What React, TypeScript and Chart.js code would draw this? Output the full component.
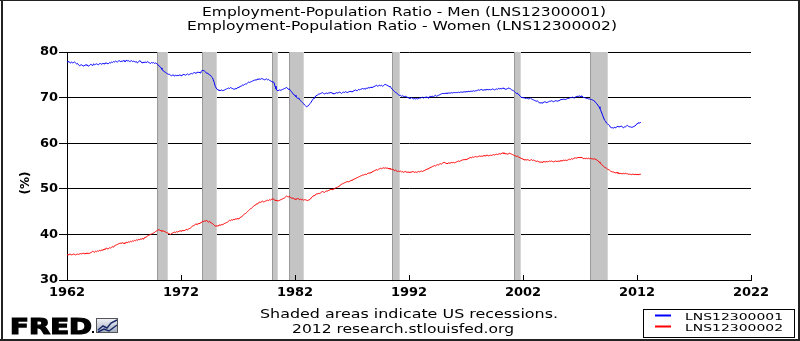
import React, { useEffect, useRef } from "react";
import { Chart, registerables } from "chart.js";

Chart.register(...registerables);

// ---------- DATA ----------
const START_YEAR = 1962; // first monthly observation: Jan 1962

// Employment-Population Ratio - Men (LNS12300001), monthly, %
const men1960s = [
  77.9, 77.8, 77.9, 77.7, 77.6, 77.8, 77.6, 77.7, 77.8, 77.6, 77.4, 77.5,
  77.2, 77.0, 77.1, 77.2, 77.1, 76.9, 77.0, 77.1, 77.2, 77.1, 77.0, 76.9,
  77.1, 77.3, 77.2, 77.0, 77.4, 77.2, 77.3, 77.4, 77.3, 77.2, 77.4, 77.5,
  77.3, 77.4, 77.5, 77.4, 77.6, 77.5, 77.6, 77.4, 77.5, 77.7, 77.6, 77.8,
  77.7, 77.9, 77.8, 78.0, 77.9, 77.8, 78.0, 78.1, 77.9, 78.0, 77.9, 78.1,
  78.1, 77.9, 78.0, 78.2, 78.0, 78.1, 77.9, 78.0, 78.1, 77.9, 78.0, 77.9,
  77.8, 77.9, 77.6, 77.8, 78.0, 78.1, 77.8, 77.6, 77.7, 77.8, 77.7, 77.8,
  77.7, 77.9, 77.7, 77.6, 77.5, 77.7, 77.6, 77.7, 77.5, 77.6, 77.5, 77.4,
];
const men1970s = [
  77.1, 76.9, 76.8, 76.5, 76.2, 75.9, 75.8, 75.6, 75.5, 75.3, 75.2, 75.1,
  75.1, 74.9, 74.8, 74.9, 75.0, 74.7, 74.9, 74.8, 74.9, 74.8, 74.9, 75.0,
  74.8, 74.9, 75.0, 75.1, 75.0, 74.9, 75.1, 75.2, 75.0, 75.1, 75.2, 75.3,
  75.2, 75.4, 75.5, 75.4, 75.3, 75.6, 75.5, 75.6, 75.4, 75.7, 75.9, 76.0,
  75.9, 75.8, 75.6, 75.3, 75.4, 75.1, 75.0, 74.9, 74.6, 74.4, 73.9, 73.3,
  72.5, 72.1, 71.8, 71.7, 71.6, 71.5, 71.6, 71.7, 71.5, 71.6, 71.7, 71.8,
  71.9, 72.0, 72.1, 72.0, 72.2, 72.1, 72.0, 71.9, 71.8, 72.0, 71.9, 72.1,
  72.2, 72.3, 72.4, 72.5, 72.6, 72.8, 72.7, 72.9, 73.0, 73.0, 73.2, 73.4,
  73.3, 73.4, 73.5, 73.6, 73.7, 73.8, 73.9, 73.8, 74.0, 74.1, 74.0, 74.1,
  74.0, 74.2, 74.1, 74.0, 73.9, 74.0, 74.1, 73.9, 74.0, 73.8, 73.7, 73.6,
];
const men1980s = [
  73.4, 73.5, 73.2, 72.5, 71.9, 71.6, 71.5, 71.6, 71.7, 71.6, 71.7, 71.8,
  71.9, 72.0, 72.1, 72.2, 72.1, 71.8, 71.9, 71.6, 71.4, 71.1, 70.8, 70.6,
  70.5, 70.2, 70.0, 69.8, 69.9, 69.5, 69.3, 69.1, 68.9, 68.7, 68.4, 68.2,
  68.0, 68.1, 68.2, 68.5, 68.7, 69.0, 69.4, 69.6, 69.9, 70.1, 70.4, 70.5,
  70.6, 70.8, 70.8, 70.9, 71.0, 71.1, 70.9, 70.8, 70.9, 71.0, 70.9, 71.0,
  71.0, 71.1, 71.1, 71.0, 70.9, 70.8, 70.9, 71.0, 71.1, 71.0, 71.1, 71.2,
  71.1, 70.9, 71.1, 71.2, 71.1, 71.3, 71.2, 71.1, 71.2, 71.3, 71.4, 71.3,
  71.3, 71.4, 71.5, 71.6, 71.7, 71.5, 71.6, 71.8, 71.7, 71.8, 71.9, 72.0,
  71.9, 72.0, 71.8, 72.1, 72.0, 72.2, 72.1, 72.2, 72.3, 72.2, 72.3, 72.4,
  72.5, 72.6, 72.7, 72.5, 72.6, 72.7, 72.6, 72.7, 72.5, 72.6, 72.8, 72.9,
];
const men1990s = [
  72.8, 72.7, 72.6, 72.4, 72.5, 72.2, 71.9, 71.7, 71.5, 71.3, 71.1, 71.0,
  70.8, 70.6, 70.5, 70.5, 70.3, 70.4, 70.3, 70.2, 70.3, 70.2, 70.1, 70.0,
  69.9, 69.8, 69.9, 70.0, 69.8, 69.7, 69.8, 69.7, 69.8, 69.7, 69.8, 69.9,
  69.9, 70.0, 70.1, 69.9, 70.0, 70.1, 70.0, 70.2, 69.9, 70.1, 70.2, 70.3,
  70.2, 70.3, 70.2, 70.4, 70.5, 70.3, 70.4, 70.5, 70.6, 70.7, 70.8, 70.9,
  70.9, 70.9, 70.9, 71.0, 70.9, 71.0, 71.0, 71.0, 71.0, 71.1, 71.0, 71.1,
  71.1, 71.1, 71.1, 71.1, 71.2, 71.1, 71.2, 71.2, 71.2, 71.2, 71.3, 71.2,
  71.3, 71.3, 71.3, 71.4, 71.3, 71.4, 71.4, 71.4, 71.5, 71.4, 71.5, 71.5,
  71.6, 71.7, 71.6, 71.7, 71.8, 71.7, 71.6, 71.7, 71.7, 71.8, 71.7, 71.8,
  71.7, 71.8, 71.7, 71.8, 71.9, 71.8, 71.7, 71.8, 71.9, 71.8, 72.0, 71.9,
];
const men2000s = [
  72.0, 71.9, 72.0, 72.1, 72.0, 71.9, 71.8, 71.9, 72.0, 72.1, 72.0, 71.9,
  71.7, 71.6, 71.5, 71.3, 71.1, 70.9, 71.0, 70.7, 70.6, 70.3, 70.1, 70.0,
  70.0, 70.0, 69.9, 69.8, 69.9, 69.8, 69.7, 69.8, 69.9, 69.7, 69.6, 69.5,
  69.4, 69.3, 69.2, 69.3, 69.1, 68.9, 68.8, 68.9, 68.8, 68.9, 69.0, 69.1,
  69.0, 68.9, 69.0, 69.1, 69.2, 69.2, 69.3, 69.2, 69.1, 69.2, 69.3, 69.3,
  69.2, 69.3, 69.3, 69.5, 69.5, 69.6, 69.6, 69.7, 69.6, 69.6, 69.7, 69.8,
  69.8, 69.9, 70.0, 70.0, 70.1, 70.0, 69.9, 70.1, 70.2, 70.3, 70.2, 70.4,
  70.3, 70.2, 70.4, 70.1, 70.0, 70.0, 69.9, 69.8, 69.8, 69.7, 69.7, 69.6,
  69.6, 69.5, 69.4, 69.3, 69.0, 68.8, 68.6, 68.2, 68.0, 67.6, 67.1, 66.6,
  66.0, 65.5, 65.0, 64.8, 64.4, 64.2, 64.1, 63.9, 63.5, 63.4, 63.4, 63.3,
];
const men2010s = [
  63.5, 63.4, 63.4, 63.7, 63.7, 63.6, 63.6, 63.7, 63.7, 63.5, 63.4, 63.6,
  63.6, 63.8, 63.9, 63.7, 63.6, 63.6, 63.5, 63.5, 63.6, 63.7, 63.8, 64.0,
  64.3, 64.4, 64.5, 64.4, 64.6,
];

// Employment-Population Ratio - Women (LNS12300002), monthly, %
const women1960s = [
  35.5, 35.6, 35.5, 35.7, 35.6, 35.5, 35.6, 35.7, 35.6, 35.5, 35.6, 35.7,
  35.6, 35.7, 35.8, 35.7, 35.8, 35.9, 35.8, 35.7, 35.9, 35.8, 35.9, 35.8,
  35.9, 36.0, 36.1, 36.3, 36.2, 36.1, 36.3, 36.2, 36.4, 36.3, 36.5, 36.4,
  36.5, 36.6, 36.5, 36.8, 36.7, 36.9, 37.0, 36.8, 36.9, 37.1, 37.0, 37.2,
  37.3, 37.2, 37.5, 37.6, 37.7, 37.8, 37.9, 38.0, 38.1, 38.0, 38.2, 38.1,
  38.0, 38.2, 38.1, 38.3, 38.2, 38.4, 38.3, 38.5, 38.4, 38.6, 38.5, 38.7,
  38.6, 38.8, 38.7, 38.9, 38.8, 39.0, 38.9, 39.1, 39.0, 39.2, 39.3, 39.4,
  39.5, 39.7, 39.8, 39.9, 40.0, 40.1, 40.2, 40.3, 40.4, 40.6, 40.7, 40.9,
];
const women1970s = [
  41.0, 41.0, 40.9, 40.8, 40.7, 40.8, 40.7, 40.6, 40.5, 40.4, 40.3, 40.2,
  40.1, 40.0, 40.2, 40.3, 40.4, 40.5, 40.4, 40.6, 40.5, 40.6, 40.7, 40.8,
  40.7, 40.8, 40.9, 40.8, 40.9, 41.0, 41.1, 41.0, 41.2, 41.3, 41.4, 41.6,
  41.8, 41.9, 42.0, 42.2, 42.3, 42.1, 42.4, 42.3, 42.5, 42.6, 42.7, 42.9,
  42.8, 43.0, 42.9, 43.1, 42.8, 42.7, 42.9, 42.6, 42.5, 42.4, 42.2, 42.0,
  41.8, 41.9, 41.8, 41.9, 42.0, 42.1, 42.0, 42.2, 42.1, 42.3, 42.4, 42.5,
  42.6, 42.7, 42.9, 43.1, 43.0, 43.2, 43.1, 43.3, 43.2, 43.4, 43.3, 43.5,
  43.4, 43.5, 43.6, 43.8, 43.9, 44.1, 44.3, 44.5, 44.6, 44.8, 45.0, 45.2,
  45.4, 45.6, 45.7, 45.9, 46.1, 46.3, 46.4, 46.6, 46.7, 46.8, 47.0, 47.1,
  47.0, 47.2, 47.3, 47.1, 47.2, 47.3, 47.4, 47.5, 47.4, 47.6, 47.5, 47.7,
];
const women1980s = [
  47.7, 47.8, 47.6, 47.5, 47.4, 47.5, 47.3, 47.4, 47.5, 47.6, 47.7, 47.8,
  47.9, 48.0, 48.2, 48.4, 48.3, 48.2, 48.4, 48.1, 48.0, 47.9, 48.0, 47.8,
  47.7, 47.8, 47.7, 47.9, 47.8, 47.6, 47.7, 47.6, 47.7, 47.5, 47.6, 47.6,
  47.5, 47.4, 47.5, 47.6, 47.7, 48.0, 48.2, 48.4, 48.5, 48.6, 48.8, 48.9,
  48.9, 49.0, 49.0, 49.1, 49.3, 49.4, 49.3, 49.2, 49.4, 49.5, 49.5, 49.6,
  49.7, 49.8, 49.9, 49.8, 50.0, 49.9, 50.1, 50.2, 50.3, 50.4, 50.5, 50.6,
  50.9, 51.0, 51.1, 51.2, 51.3, 51.4, 51.5, 51.6, 51.5, 51.6, 51.7, 51.8,
  51.9, 52.0, 52.1, 52.2, 52.3, 52.4, 52.5, 52.6, 52.7, 52.8, 52.9, 53.0,
  53.0, 53.1, 53.2, 53.1, 53.3, 53.4, 53.5, 53.4, 53.6, 53.7, 53.8, 53.9,
  54.0, 54.1, 54.2, 54.1, 54.3, 54.4, 54.5, 54.4, 54.5, 54.6, 54.5, 54.6,
];
const women1990s = [
  54.5, 54.6, 54.4, 54.5, 54.3, 54.4, 54.2, 54.3, 54.1, 54.0, 54.1, 53.9,
  53.8, 53.9, 53.8, 53.9, 53.7, 53.8, 53.6, 53.7, 53.8, 53.7, 53.6, 53.7,
  53.6, 53.7, 53.6, 53.7, 53.8, 53.7, 53.6, 53.7, 53.6, 53.7, 53.8, 53.7,
  53.8, 53.9, 53.8, 53.9, 54.0, 54.1, 54.2, 54.3, 54.4, 54.5, 54.6, 54.7,
  54.8, 54.9, 55.0, 55.1, 55.0, 55.2, 55.3, 55.2, 55.4, 55.5, 55.4, 55.6,
  55.7, 55.8, 55.7, 55.6, 55.5, 55.6, 55.7, 55.6, 55.7, 55.8, 55.7, 55.8,
  55.7, 55.8, 55.9, 56.0, 56.1, 56.0, 56.1, 56.2, 56.3, 56.4, 56.3, 56.5,
  56.4, 56.5, 56.6, 56.7, 56.8, 56.9, 56.8, 57.0, 56.9, 57.0, 57.1, 57.0,
  57.0, 57.1, 57.2, 57.1, 57.2, 57.1, 57.2, 57.3, 57.2, 57.3, 57.4, 57.3,
  57.2, 57.3, 57.4, 57.3, 57.4, 57.5, 57.4, 57.5, 57.6, 57.5, 57.6, 57.7,
];
const women2000s = [
  57.6, 57.7, 57.8, 57.9, 57.7, 57.8, 57.6, 57.7, 57.6, 57.7, 57.8, 57.7,
  57.6, 57.5, 57.4, 57.3, 57.2, 57.1, 57.2, 57.0, 56.9, 56.8, 56.7, 56.6,
  56.5, 56.4, 56.3, 56.4, 56.3, 56.4, 56.3, 56.2, 56.3, 56.4, 56.2, 56.3,
  56.2, 56.1, 56.0, 56.1, 56.0, 55.9, 55.8, 55.9, 55.8, 55.9, 56.0, 55.9,
  55.9, 56.0, 55.9, 56.0, 56.1, 56.0, 56.1, 56.0, 55.9, 56.0, 56.1, 56.0,
  56.0, 56.1, 56.0, 56.1, 56.2, 56.1, 56.2, 56.3, 56.2, 56.3, 56.2, 56.3,
  56.4, 56.5, 56.4, 56.6, 56.5, 56.6, 56.7, 56.8, 56.7, 56.8, 56.9, 56.8,
  56.9, 56.8, 56.9, 56.7, 56.6, 56.7, 56.6, 56.7, 56.6, 56.7, 56.6, 56.7,
  56.6, 56.6, 56.5, 56.6, 56.5, 56.4, 56.3, 56.1, 55.9, 55.7, 55.5, 55.3,
  55.1, 54.9, 54.7, 54.6, 54.5, 54.3, 54.2, 54.1, 53.9, 53.8, 53.7, 53.7,
];
const women2010s = [
  53.6, 53.5, 53.5, 53.6, 53.4, 53.4, 53.3, 53.4, 53.3, 53.3, 53.4, 53.3,
  53.4, 53.3, 53.3, 53.2, 53.2, 53.2, 53.1, 53.2, 53.2, 53.1, 53.2, 53.1,
  53.2, 53.1, 53.1, 53.2, 53.2,
];

// NBER recessions (peak month -> trough month)
const recessionStarts = ["1969-12", "1973-11", "1980-01", "1981-07", "1990-07", "2001-03", "2007-12"];
const recessionEnds = ["1970-11", "1975-03", "1980-07", "1982-11", "1991-03", "2001-11", "2009-06"];

const X_MIN = 1962;
const X_MAX = 2022;
const X_STEP = 10;
const Y_MIN = 30;
const Y_MAX = 80;
const Y_STEP = 10;

const titleLines = [
  "Employment-Population Ratio - Men (LNS12300001)",
  "Employment-Population Ratio - Women (LNS12300002)",
];
const footerLines = ["Shaded areas indicate US recessions.", "2012 research.stlouisfed.org"];
const seriesNames = ["LNS12300001", "LNS12300002"];
const seriesColors = ["#0000ff", "#ff0000"];
const yAxisTitle = "(%)";
const logoText = "FRED";

// ---------- HELPERS ----------
const menValues = [...men1960s, ...men1970s, ...men1980s, ...men1990s, ...men2000s, ...men2010s];
const womenValues = [...women1960s, ...women1970s, ...women1980s, ...women1990s, ...women2000s, ...women2010s];

const toPoints = (vals: number[]) => vals.map((v, i) => ({ x: START_YEAR + i / 12, y: v }));
const ymToYear = (s: string) => {
  const [y, m] = s.split("-").map(Number);
  return y + (m - 1) / 12;
};

function fitText(
  ctx: CanvasRenderingContext2D,
  text: string,
  x: number,
  y: number,
  font: string,
  width: number,
  align: CanvasTextAlign,
  strokeW = 0
) {
  ctx.save();
  ctx.font = font;
  const w = ctx.measureText(text).width || 1;
  ctx.translate(x, y);
  ctx.scale(width / w, 1);
  ctx.textAlign = align;
  ctx.textBaseline = "alphabetic";
  ctx.fillStyle = "#000";
  ctx.fillText(text, 0, 0);
  if (strokeW > 0) {
    ctx.strokeStyle = "#000";
    ctx.lineWidth = strokeW;
    ctx.lineJoin = "miter";
    ctx.strokeText(text, 0, 0);
  }
  ctx.restore();
}

const FONT = "'DejaVu Sans', Verdana, sans-serif";

const backgroundPlugin = {
  id: "bg",
  beforeDraw(chart: any) {
    const ctx = chart.ctx;
    ctx.save();
    ctx.fillStyle = "#fff";
    ctx.fillRect(0, 0, chart.width, chart.height);
    ctx.restore();
  },
};

const recessionPlugin = {
  id: "recessions",
  beforeDatasetsDraw(chart: any) {
    const { ctx, chartArea, scales } = chart;
    const xs = scales.x;
    ctx.save();
    recessionStarts.forEach((s, i) => {
      const x1 = Math.round(xs.getPixelForValue(ymToYear(s)));
      const x2 = Math.round(xs.getPixelForValue(ymToYear(recessionEnds[i])));
      const top = chartArea.top;
      const h = chartArea.bottom - chartArea.top;
      ctx.fillStyle = "#c4c4c4";
      ctx.fillRect(x1, top, x2 - x1, h);
      ctx.fillStyle = "#9a9a9a";
      ctx.fillRect(x1, top, 1, h);
      ctx.fillStyle = "#d6d6d6";
      ctx.fillRect(x2 - 1, top, 1, h);
    });
    ctx.restore();
  },
};

const decorPlugin = {
  id: "decor",
  afterDraw(chart: any) {
    const { ctx, chartArea, scales } = chart;
    const xs = scales.x;
    ctx.save();

    // inward x tick marks
    ctx.strokeStyle = "#000";
    ctx.lineWidth = 1;
    for (let yr = X_MIN + X_STEP; yr <= X_MAX; yr += X_STEP) {
      const px = Math.round(xs.getPixelForValue(yr)) + 0.5;
      ctx.beginPath();
      ctx.moveTo(px, chartArea.bottom);
      ctx.lineTo(px, chartArea.bottom - 5);
      ctx.stroke();
    }

    // titles
    fitText(ctx, titleLines[0], 404, 16, `12px ${FONT}`, 404, "center");
    fitText(ctx, titleLines[1], 402, 30, `12px ${FONT}`, 430, "center");

    // y-axis title
    ctx.save();
    ctx.translate(29, 183);
    ctx.rotate(-Math.PI / 2);
    ctx.font = `bold 12px ${FONT}`;
    ctx.fillStyle = "#000";
    ctx.textAlign = "center";
    ctx.textBaseline = "alphabetic";
    ctx.fillText(yAxisTitle, 0, 0);
    ctx.restore();

    // footer
    fitText(ctx, footerLines[0], 409, 318, `12px ${FONT}`, 298, "center");
    fitText(ctx, footerLines[1], 403, 333, `12px ${FONT}`, 222, "center");

    // legend box
    ctx.strokeStyle = "#000";
    ctx.lineWidth = 1;
    ctx.strokeRect(643.5, 309.5, 151, 28);
    const rowY = [315.5, 326.5];
    seriesNames.forEach((name, i) => {
      ctx.strokeStyle = seriesColors[i];
      ctx.lineWidth = 2;
      ctx.beginPath();
      ctx.moveTo(655, rowY[i]);
      ctx.lineTo(671, rowY[i]);
      ctx.stroke();
      fitText(ctx, name, 685, rowY[i] + 4, `8.5px ${FONT}`, 98, "left");
    });

    // FRED logo
    fitText(ctx, logoText, 10, 334, `bold 21px ${FONT}`, 82, "left", 1.2);
    ctx.fillStyle = "#000";
    ctx.fillRect(92, 331, 2, 2);
    // small chart icon
    const g = ctx.createLinearGradient(96, 318, 96, 334);
    g.addColorStop(0, "#f2f4f8");
    g.addColorStop(1, "#9aa6b8");
    ctx.fillStyle = g;
    ctx.fillRect(96, 318, 22, 15);
    ctx.strokeStyle = "#555";
    ctx.lineWidth = 1;
    ctx.strokeRect(96.5, 318.5, 21, 14);
    ctx.strokeStyle = "#1a2a6a";
    ctx.lineWidth = 1.5;
    ctx.beginPath();
    ctx.moveTo(98, 330);
    ctx.lineTo(103, 326);
    ctx.lineTo(107, 328);
    ctx.lineTo(111, 323);
    ctx.lineTo(117, 320);
    ctx.stroke();
    ctx.beginPath();
    ctx.moveTo(98, 332);
    ctx.lineTo(104, 329);
    ctx.lineTo(109, 331);
    ctx.lineTo(117, 325);
    ctx.stroke();

    // outer frame
    ctx.fillStyle = "#222";
    ctx.fillRect(0, 0, chart.width, 1);
    ctx.fillRect(1, 0, 2, chart.height);
    ctx.fillRect(chart.width - 2, 0, 2, chart.height);
    ctx.fillRect(0, chart.height - 2, chart.width, 2);

    ctx.restore();
  },
};

export default function App() {
  const canvasRef = useRef<HTMLCanvasElement>(null);

  useEffect(() => {
    const canvas = canvasRef.current;
    if (!canvas) return;
    const chart = new Chart(canvas, {
      type: "line",
      data: {
        datasets: [
          {
            label: seriesNames[0],
            data: toPoints(menValues),
            borderColor: seriesColors[0],
            borderWidth: 1,
            pointRadius: 0,
            tension: 0,
            fill: false,
          },
          {
            label: seriesNames[1],
            data: toPoints(womenValues),
            borderColor: seriesColors[1],
            borderWidth: 1,
            pointRadius: 0,
            tension: 0,
            fill: false,
          },
        ],
      },
      options: {
        responsive: false,
        animation: false,
        devicePixelRatio: 1,
        parsing: false as any,
        normalized: true,
        layout: { padding: { left: 0, right: 49, top: 52, bottom: 0 } },
        plugins: {
          legend: { display: false },
          tooltip: { enabled: false },
          title: { display: false },
        },
        scales: {
          x: {
            type: "linear",
            min: X_MIN,
            max: X_MAX,
            ticks: {
              stepSize: X_STEP,
              callback: (v: any) => String(v),
              font: { family: FONT, size: 13, weight: "bold" },
              color: "#000",
              padding: 5,
              maxRotation: 0,
              autoSkip: false,
            },
            grid: { display: false, drawTicks: false },
            border: { display: true, color: "#000", width: 1 },
            afterFit: (s: any) => {
              s.height = 61;
            },
          },
          y: {
            type: "linear",
            min: Y_MIN,
            max: Y_MAX,
            ticks: {
              stepSize: Y_STEP,
              font: { family: FONT, size: 13, weight: "bold" },
              color: "#000",
              padding: 1,
            },
            grid: { color: "#000", lineWidth: 1, drawTicks: true, tickLength: 8, tickColor: "#000" },
            border: { display: true, color: "#000", width: 1 },
            afterFit: (s: any) => {
              s.width = 67;
            },
          },
        },
      },
      plugins: [backgroundPlugin, recessionPlugin, decorPlugin],
    });
    return () => chart.destroy();
  }, []);

  return (
    <div style={{ position: "fixed", left: 0, top: 0, width: 800, height: 341, background: "#fff" }}>
      <canvas ref={canvasRef} width={800} height={341} style={{ display: "block", width: 800, height: 341 }} />
    </div>
  );
}
